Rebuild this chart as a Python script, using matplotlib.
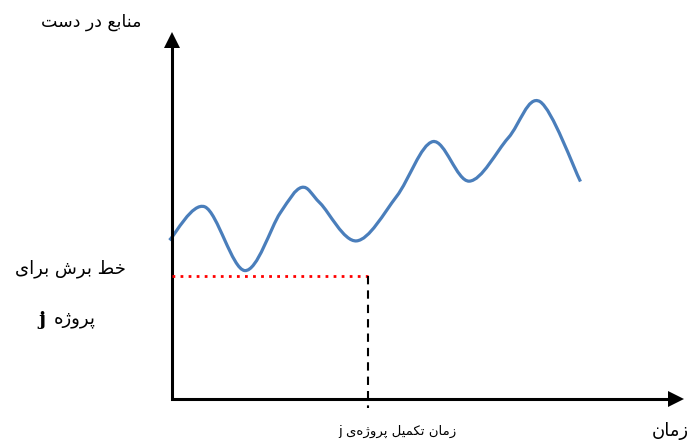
import matplotlib
matplotlib.use('Agg')
import matplotlib.pyplot as plt
from matplotlib.path import Path
from matplotlib.patches import PathPatch

# resources available over time (arbitrary units 0-10)
time = [-0.04, 0.65, 1.43, 2.12, 2.54, 2.90, 3.61, 4.39, 5.10, 5.81,
        6.57, 7.19, 7.98]
resources = [4.32, 5.23, 3.49, 5.06, 5.76, 5.33, 4.30, 5.51, 7.01, 5.93,
             7.11, 8.10, 5.92]
cut_level = 3.34        # cut-off line for project j
finish_time = 3.84      # completion time of project j

# labels (logical order)
lbl_res = 'منابع در دست'
lbl_cut1 = 'خط برش برای'
lbl_cut2 = 'پروژه'
lbl_finish = 'زمان تکمیل پروژه\u200cی'
lbl_time = 'زمان'

# --- tiny arabic/persian shaper: isolated, final, initial, medial
FORMS = {
    'ا': ('\uFE8D', '\uFE8E', None, None),
    'ب': ('\uFE8F', '\uFE90', '\uFE91', '\uFE92'),
    'ت': ('\uFE95', '\uFE96', '\uFE97', '\uFE98'),
    'خ': ('\uFEA5', '\uFEA6', '\uFEA7', '\uFEA8'),
    'د': ('\uFEA9', '\uFEAA', None, None),
    'ر': ('\uFEAD', '\uFEAE', None, None),
    'ز': ('\uFEAF', '\uFEB0', None, None),
    'س': ('\uFEB1', '\uFEB2', '\uFEB3', '\uFEB4'),
    'ش': ('\uFEB5', '\uFEB6', '\uFEB7', '\uFEB8'),
    'ط': ('\uFEC1', '\uFEC2', '\uFEC3', '\uFEC4'),
    'ع': ('\uFEC9', '\uFECA', '\uFECB', '\uFECC'),
    'ل': ('\uFEDD', '\uFEDE', '\uFEDF', '\uFEE0'),
    'م': ('\uFEE1', '\uFEE2', '\uFEE3', '\uFEE4'),
    'ن': ('\uFEE5', '\uFEE6', '\uFEE7', '\uFEE8'),
    'ه': ('\uFEE9', '\uFEEA', '\uFEEB', '\uFEEC'),
    'و': ('\uFEED', '\uFEEE', None, None),
    'پ': ('\uFB56', '\uFB57', '\uFB58', '\uFB59'),
    'ژ': ('\uFB8A', '\uFB8B', None, None),
    'ک': ('\uFB8E', '\uFB8F', '\uFB90', '\uFB91'),
    'ی': ('\uFBFC', '\uFBFD', '\uFBFE', '\uFBFF'),
}


def rtl(s):
    out = []
    for i, ch in enumerate(s):
        if ch not in FORMS:
            if ch != '\u200c':
                out.append(ch)
            continue
        prev = s[i-1] if i > 0 else ''
        nxt = s[i+1] if i + 1 < len(s) else ''
        jp = prev in FORMS and FORMS[prev][2] is not None
        jn = nxt in FORMS and FORMS[ch][2] is not None
        iso, fin, ini, med = FORMS[ch]
        if jp and jn:
            out.append(med)
        elif jp:
            out.append(fin)
        elif jn:
            out.append(ini)
        else:
            out.append(iso)
    return ''.join(out)[::-1]


def smooth_path(xs, ys):
    # catmull-rom spline drawn as cubic bezier segments (like a "smoothed line")
    pts = list(zip(xs, ys))
    verts, codes = [pts[0]], [Path.MOVETO]
    for i in range(len(pts) - 1):
        p0 = pts[i-1] if i > 0 else pts[i]
        p1, p2 = pts[i], pts[i+1]
        p3 = pts[i+2] if i + 2 < len(pts) else pts[i+1]
        c1 = (p1[0] + (p2[0] - p0[0])/6, p1[1] + (p2[1] - p0[1])/6)
        c2 = (p2[0] - (p3[0] - p1[0])/6, p2[1] - (p3[1] - p1[1])/6)
        verts += [c1, c2, p2]
        codes += [Path.CURVE4]*3
    return Path(verts, codes)


plt.rcParams['font.family'] = ['DejaVu Sans']
W, H = 690, 442
fig = plt.figure(figsize=(W/100, H/100), dpi=100)
ax = fig.add_axes([171.5/W, 1 - 398.5/H, 512.5/W, 366.5/H])
ax.set_xlim(0, 10)
ax.set_ylim(0, 10)
ax.axis('off')

# axes with arrow heads
ax.plot([0, 0, 9.85], [9.8, 0, 0], color='black', lw=2.2,
        solid_joinstyle='miter', clip_on=False)
ax.plot([0], [10 - 0.21], marker='^', ms=11.5, mew=0, color='black',
        clip_on=False)
ax.plot([10 - 0.15], [0], marker='>', ms=11.5, mew=0, color='black',
        clip_on=False)

ax.add_patch(PathPatch(smooth_path(time, resources), facecolor='none',
                       edgecolor='#4a7ebb', lw=2.3, joinstyle='round',
                       capstyle='butt', clip_on=False))
ax.plot([0, finish_time], [cut_level, cut_level], color='red', lw=2,
        linestyle=(0, (1, 1.9)), clip_on=False)
ax.plot([finish_time, finish_time], [cut_level, -0.25], color='black',
        lw=1.5, linestyle=(0, (4, 2.9)), clip_on=False)

fig.text(91/W, 1 - 22/H, rtl(lbl_res), fontsize=12.5, ha='center',
         va='center')
fig.text(70/W, 1 - 269/H, rtl(lbl_cut1), fontsize=13, ha='center',
         va='center')
fig.text(75/W, 1 - 319/H, rtl(lbl_cut2), fontsize=13, ha='center',
         va='center')
fig.text(42/W, 1 - 320/H, 'j', fontsize=14, fontweight='bold',
         family=['DejaVu Serif'], ha='center', va='center')
fig.text(397/W, 1 - 431/H, 'j ' + rtl(lbl_finish), fontsize=9.5,
         ha='center', va='center')
fig.text(670/W, 1 - 431/H, rtl(lbl_time), fontsize=13, ha='center',
         va='center')

plt.savefig('out.png', dpi=100)
